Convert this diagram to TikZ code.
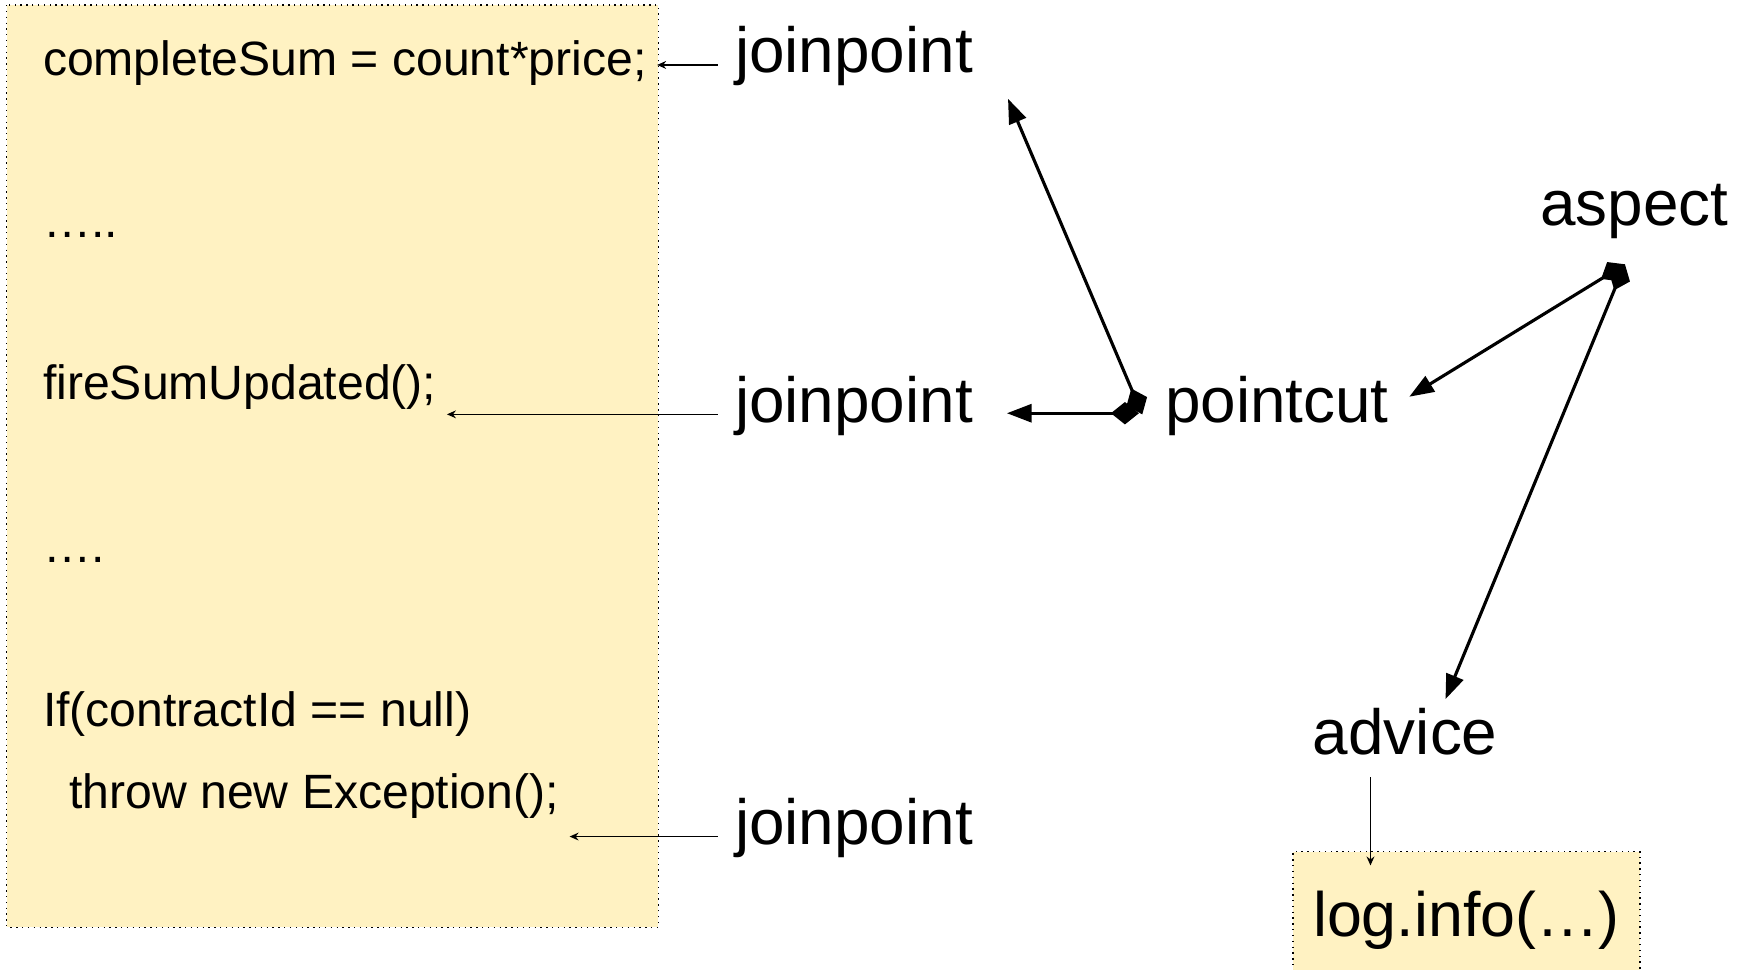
\documentclass[tikz,border=0pt]{standalone}
\usepackage{fontspec}
\setmainfont{Liberation Sans}
\usetikzlibrary{arrows.meta}
\definecolor{codefill}{HTML}{FFF2C2}
\tikzset{
  code/.style={anchor=base west, inner xsep=4.5pt, inner ysep=0pt, font=\fontsize{21.5}{26}\selectfont},
  term/.style={anchor=base west, inner sep=0pt, font=\fontsize{28.5}{34}\selectfont},
  ptr/.style={-{Stealth[length=4pt,width=3.5pt]}, line width=0.7pt},
  assoc/.style={{Diamond[length=12.5pt,width=10pt]}-{Triangle[length=11pt,width=8pt]}, line width=1.4pt},
  box/.style={fill=codefill, draw=black, dotted, line width=0.6pt}
}

\begin{document}
\begin{tikzpicture}[x=0.5pt,y=-0.5pt]
\useasboundingbox (0,0) rectangle (1560,866);
% code
\draw[box] (6,4.5) rectangle (588,828);
\node[code] (sum) at (29,67) {completeSum = count*price;};
\node[code] (dots1) at (29,212) {…..};
\node[code] (fire) at (29,357) {fireSumUpdated();};
\node[code] (dots2) at (29,502) {….};
\node[code] (iff) at (29,649) {If(contractId == null)};
\node[code] (throw) at (52.5,722) {throw new Exception();};
% terms
\node[term] (jp1) at (656,65) {joinpoint};
\node[term] (jp2) at (656,377) {joinpoint};
\node[term] (jp3) at (656,754) {joinpoint};
\node[term] (pc) at (1040,377) {pointcut};
\node[term] (asp) at (1375,201) {aspect};
\node[term] (adv) at (1172,674) {advice};
\node[term, box, font=\fontsize{28}{34}\selectfont, inner xsep=9pt, inner ysep=17.5pt] (log) at (1154,836) {log.info(…)};
% joinpoints point into the code
\draw[ptr] ([shift={(-7.5pt,3.5pt)}]jp1.base west) -- ([yshift=3.5pt]jp1.base west -| sum.east);
\draw[ptr] ([shift={(-7.5pt,3.5pt)}]jp2.base west) -- ([yshift=3.5pt]jp2.base west -| fire.east);
\draw[ptr] ([shift={(-7.5pt,3.5pt)}]jp3.base west) -- ([yshift=3.5pt]jp3.base west -| throw.east);
% pointcut and aspect
\coordinate (pc out1) at (1017,369);
\coordinate (pc out2) at (1020,370);
\coordinate (asp out) at (1451,236);
\draw[assoc] (pc out1) -- ([xshift=15pt]pc out1 -| jp2.east);
\draw[assoc] (pc out2) -- ([shift={(15.5pt,-5.5pt)}]jp1.south east);
\draw[assoc] (asp out) -- ([shift={(9pt,4pt)}]pc.east);
\draw[assoc] (asp out) -- ([shift={(18pt,4pt)}]adv.north);
% advice body
\coordinate (adv out) at ([shift={(-15.5pt,-9.5pt)}]adv.south);
\draw[ptr] (adv out) -- ([yshift=-6.5pt]adv out |- log.north);
\end{tikzpicture}
\end{document}
